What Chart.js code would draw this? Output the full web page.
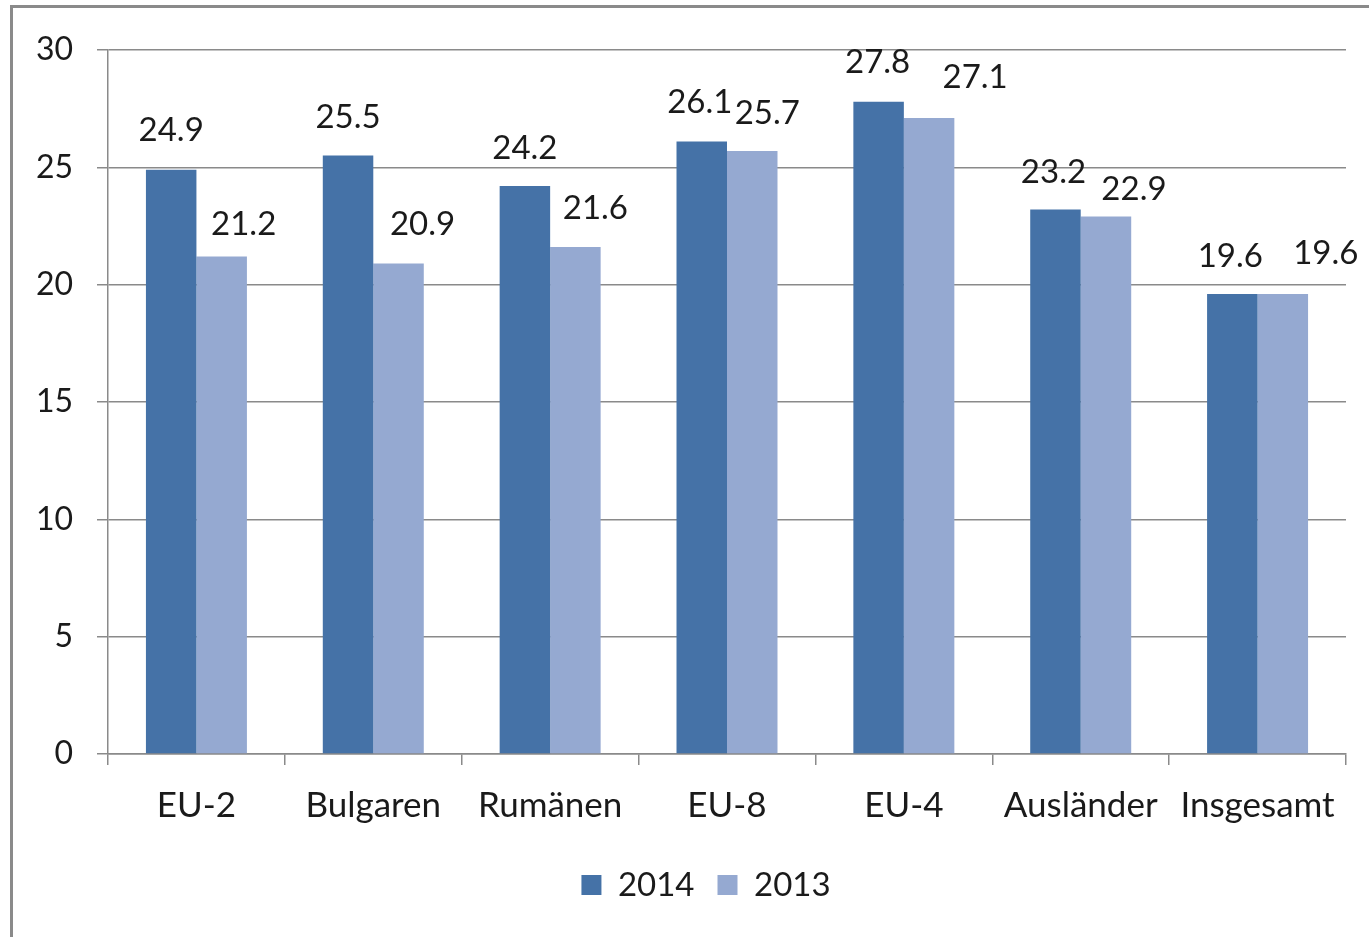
<!DOCTYPE html>
<html>
<head>
<meta charset="utf-8">
<script src="https://cdn.jsdelivr.net/npm/chart.js@4"></script>
<style>
    html, body { margin: 0; padding: 0; background: #ffffff; overflow: hidden; }
    #wrap { position: relative; width: 1369px; height: 937px; }
    #frame {
        position: absolute; left: 10px; top: 5px; width: 1500px; height: 1100px;
        border: 3px solid #8a8a8a; box-sizing: border-box;
    }
    canvas { position: absolute; left: 0; top: 0; }
</style>
</head>
<body>
<div id="wrap">
    <div id="frame"></div>
    <canvas id="barChart" width="1369" height="937"></canvas>
</div>
<script>
// Daten
const categories = ['EU-2', 'Bulgaren', 'Rumänen', 'EU-8', 'EU-4', 'Ausländer', 'Insgesamt'];
const values2014 = [24.9, 25.5, 24.2, 26.1, 27.8, 23.2, 19.6];
const values2013 = [21.2, 20.9, 21.6, 25.7, 27.1, 22.9, 19.6];
const yTicks = [0, 5, 10, 15, 20, 25, 30];

// Farben
const colors = ['#4572a7', '#95a9d1'];
const fontFamily = 'Lato, "Open Sans", sans-serif';

// Verschiebung der Beschriftungen (wie im Original manuell versetzt)
const labelShift = [
    { dx: [0, 0, 0, -2, -1, -2, -2], dy: [39, 38, 38, 39, 39, 37, 38] },
    { dx: [22, 24, 20, 15, 46, 28, 43], dy: [32, 39, 39, 38, 41, 27, 41] }
];

// Datenbeschriftungen über den Balken
const valueLabels = {
    id: 'valueLabels',
    afterDatasetsDraw(chart) {
        const ctx = chart.ctx;
        ctx.save();
        ctx.font = '33px ' + fontFamily;
        ctx.fillStyle = '#1a1a1a';
        ctx.textAlign = 'center';
        ctx.textBaseline = 'middle';
        chart.data.datasets.forEach((ds, di) => {
            chart.getDatasetMeta(di).data.forEach((bar, i) => {
                const s = labelShift[di];
                ctx.fillText(ds.data[i].toFixed(1), bar.x + s.dx[i], bar.y - s.dy[i]);
            });
        });
        ctx.restore();
    }
};

// Legende etwas nach rechts schieben (Mitte des Diagrammbereichs)
const legendShift = {
    id: 'legendShift',
    afterLayout(chart) {
        if (chart.legend) {
            chart.legend.left += 33;
            chart.legend.right += 33;
        }
    }
};

new Chart(document.getElementById('barChart'), {
    type: 'bar',
    data: {
        labels: categories,
        datasets: [
            { label: '2014', data: values2014, backgroundColor: colors[0], borderWidth: 0 },
            { label: '2013', data: values2013, backgroundColor: colors[1], borderWidth: 0 }
        ]
    },
    options: {
        responsive: false,
        animation: false,
        layout: { padding: { left: 0, top: 50, right: 23, bottom: 25.5 } },
        datasets: { bar: { categoryPercentage: 0.571, barPercentage: 1.0 } },
        plugins: {
            tooltip: { enabled: false },
            legend: {
                position: 'bottom',
                labels: {
                    color: '#1a1a1a',
                    font: { family: fontFamily, size: 33 },
                    boxWidth: 20,
                    boxHeight: 20,
                    padding: 23
                }
            }
        },
        scales: {
            x: {
                afterFit: (scale) => { scale.height = 91.5; },
                grid: { drawOnChartArea: false, tickLength: 11, color: '#8a8a8a', lineWidth: 1.5 },
                border: { color: '#8a8a8a', width: 1.5 },
                ticks: {
                    color: '#1a1a1a',
                    font: { family: fontFamily, size: 35 },
                    padding: 20,
                    maxRotation: 0,
                    autoSkip: false
                }
            },
            y: {
                min: 0,
                max: 30,
                afterFit: (scale) => { scale.width = 108; },
                afterBuildTicks: (scale) => { scale.ticks = yTicks.map(v => ({ value: v })); },
                grid: { tickLength: 11, color: '#8a8a8a', lineWidth: 1.5 },
                border: { color: '#8a8a8a', width: 1.5 },
                ticks: {
                    color: '#1a1a1a',
                    font: { family: fontFamily, size: 32 },
                    padding: 24
                }
            }
        }
    },
    plugins: [valueLabels, legendShift]
});
</script>
</body>
</html>
